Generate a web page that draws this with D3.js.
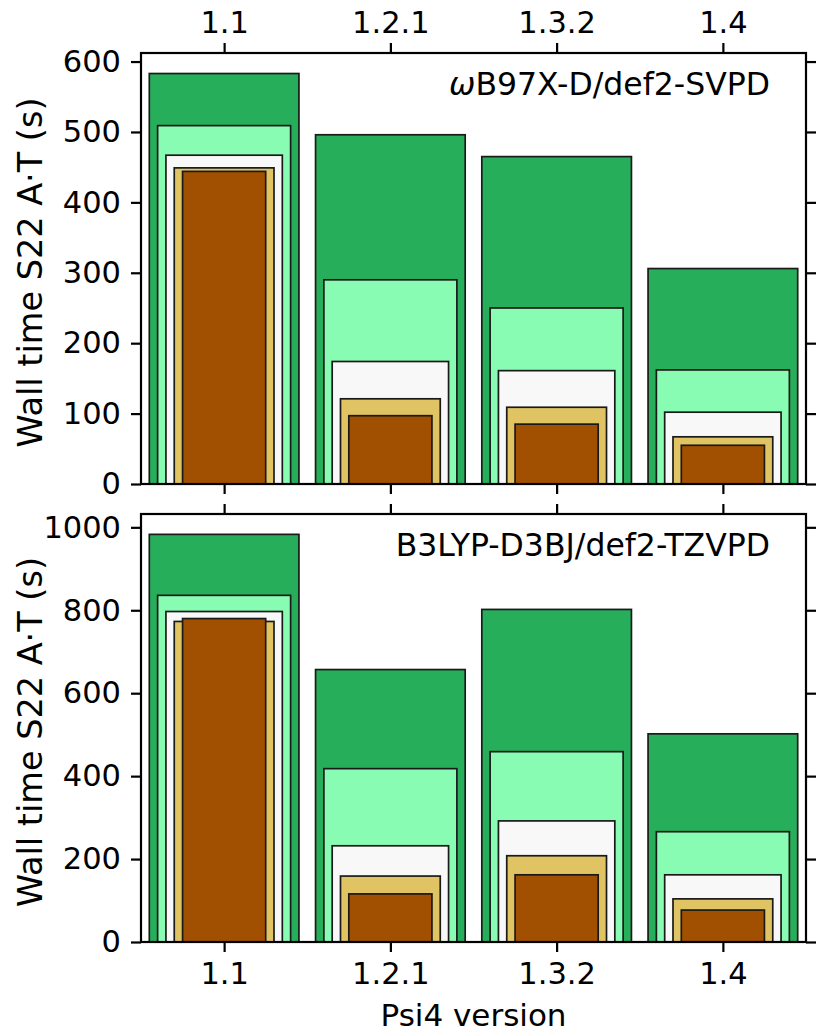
<!DOCTYPE html>
<html>
<head>
<meta charset="utf-8">
<script src="https://cdn.jsdelivr.net/npm/d3@7"></script>
<style>
  body { margin: 0; background: #fff; }
  svg { display: block; }
  text { font-family: "DejaVu Sans", sans-serif; fill: #000; }
</style>
</head>
<body>
<div id="chart"></div>
<script>
// categories and nested bar series (outer -> inner)
var versions = ['1.1', '1.2.1', '1.3.2', '1.4'];
var seriesColors = ['#27ae5b', '#88fcb3', '#f8f8f8', '#e0c464', '#a14f00'];
var barWidths = [0.9, 0.8, 0.7, 0.6, 0.5];

// wB97X-D/def2-SVPD
var top1 = [583, 496, 465, 306];
var top2 = [509, 290, 250, 162];
var top3 = [467, 174, 161, 102];
var top4 = [449, 121, 109, 67];
var top5 = [444, 97, 85, 55];
var topTicks = [0, 100, 200, 300, 400, 500, 600];

// B3LYP-D3BJ/def2-TZVPD
var bot1 = [983, 657, 802, 502];
var bot2 = [836, 418, 459, 266];
var bot3 = [797, 232, 292, 162];
var bot4 = [773, 159, 208, 104];
var bot5 = [780, 116, 162, 77];
var botTicks = [0, 200, 400, 600, 800, 1000];

var W = 816, H = 1032;
var left = 141, right = 806;
var tickLen = 10, tickPad = 10, fs = 30.5;

var svg = d3.select('#chart').append('svg')
    .attr('width', W)
    .attr('height', H);

svg.append('rect').attr('width', W).attr('height', H).attr('fill', '#fff');

var x = d3.scaleLinear()
    .domain([-0.5, versions.length - 0.5])
    .range([left, right]);

function panel(top, bottom, series, ticks, title, topLabels, bottomLabels) {
    var ymax = d3.max(series[0]) * 1.05;
    var y = d3.scaleLinear().domain([0, ymax]).range([bottom, top]);
    var g = svg.append('g');

    // nested bars, widest first
    series.forEach(function(vals, si) {
        g.append('g')
            .selectAll('rect')
            .data(vals)
            .enter()
            .append('rect')
            .attr('x', function(d, i) { return x(i - barWidths[si] / 2) })
            .attr('width', x(barWidths[si]) - x(0))
            .attr('y', function(d) { return y(d) })
            .attr('height', function(d) { return y(0) - y(d) })
            .attr('fill', seriesColors[si])
            .attr('stroke', '#1a1a1a')
            .attr('stroke-width', 1.7);
    });

    var idx = d3.range(versions.length);
    var fmt = function(i) { return versions[i] };

    var axes = [
        [d3.axisLeft(y).tickValues(ticks).tickFormat(d3.format('d')), 'translate(' + left + ',0)'],
        [d3.axisRight(y).tickValues(ticks).tickFormat(''), 'translate(' + right + ',0)'],
        [d3.axisTop(x).tickValues(idx).tickFormat(topLabels ? fmt : ''), 'translate(0,' + top + ')'],
        [d3.axisBottom(x).tickValues(idx).tickFormat(bottomLabels ? fmt : ''), 'translate(0,' + bottom + ')']
    ];
    axes.forEach(function(a) {
        var ax = g.append('g')
            .attr('transform', a[1])
            .call(a[0].tickSize(tickLen).tickSizeOuter(0).tickPadding(tickPad));
        ax.select('.domain').remove();
        ax.selectAll('line').attr('stroke', '#000').attr('stroke-width', 2.2);
        ax.selectAll('text').style('font-size', fs + 'px').style('font-family', '"DejaVu Sans", sans-serif');
    });

    // frame
    g.append('rect')
        .attr('x', left)
        .attr('y', top)
        .attr('width', right - left)
        .attr('height', bottom - top)
        .attr('fill', 'none')
        .attr('stroke', '#000')
        .attr('stroke-width', 2.2);

    // y label
    g.append('text')
        .attr('transform', 'translate(30,' + ((top + bottom) / 2 + 4) + ') rotate(-90)')
        .attr('text-anchor', 'middle')
        .attr('dy', '0.35em')
        .style('font-size', '33.5px')
        .text('Wall time S22 A\u00b7T (s)');

    // method annotation
    var t = g.append('text')
        .attr('x', 770)
        .attr('y', top + 42)
        .attr('text-anchor', 'end')
        .style('font-size', '31.5px');
    if (title.charAt(0) === '\u03c9') {
        t.append('tspan').style('font-style', 'italic').text('\u03c9');
        t.append('tspan').text(title.slice(1));
    } else {
        t.text(title);
    }
}

panel(53, 484, [top1, top2, top3, top4, top5], topTicks, '\u03c9B97X-D/def2-SVPD', true, false);
panel(514, 942, [bot1, bot2, bot3, bot4, bot5], botTicks, 'B3LYP-D3BJ/def2-TZVPD', false, true);

svg.append('text')
    .attr('x', (left + right) / 2)
    .attr('y', 1026)
    .attr('text-anchor', 'middle')
    .style('font-size', '31px')
    .text('Psi4 version');
</script>
</body>
</html>
